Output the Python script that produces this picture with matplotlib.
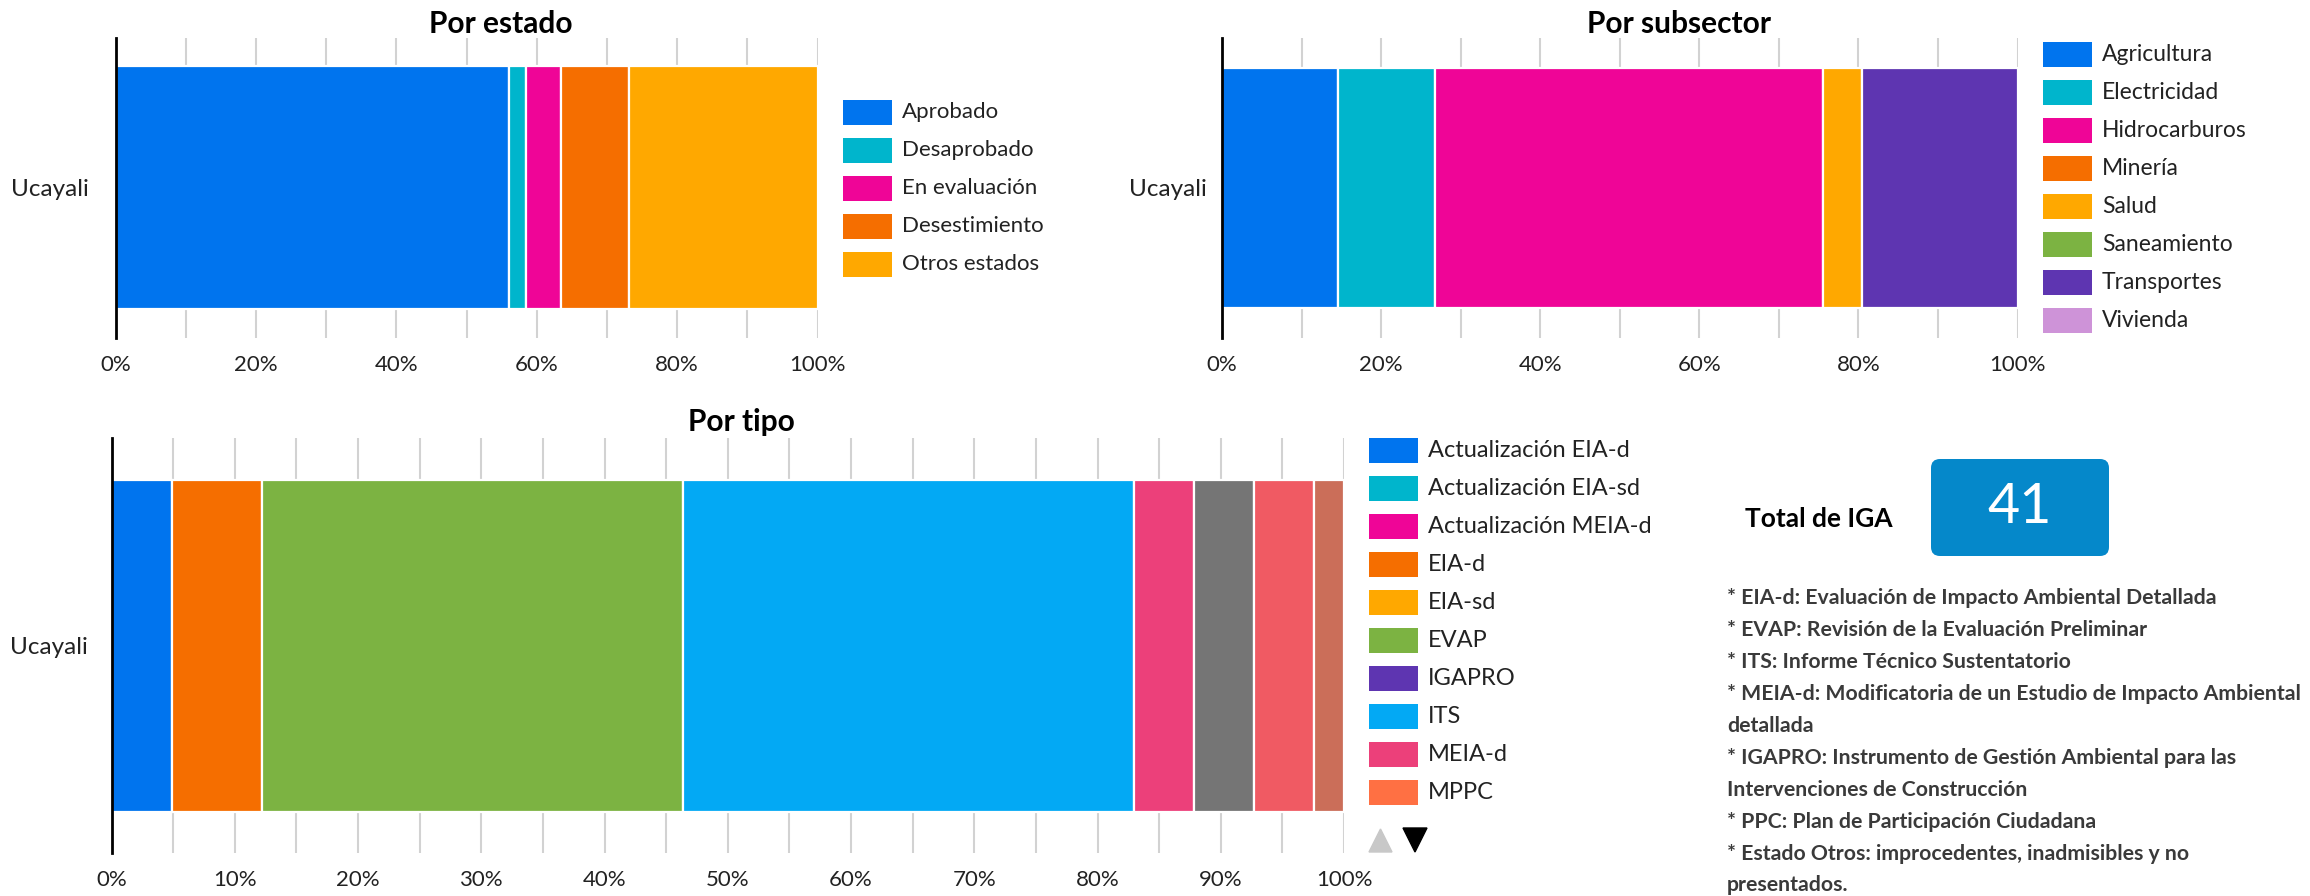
import matplotlib
matplotlib.use('Agg')
import matplotlib.pyplot as plt
from matplotlib.patches import FancyBboxPatch
import numpy as np

W, H = 2310, 896
FONT = ['Lato', 'DejaVu Sans']
plt.rcParams['font.family'] = FONT

region = ["Ucayali"]

estado_labels = ["Aprobado", "Desaprobado", "En evaluación", "Desestimiento", "Otros estados"]
estado_values = [23, 1, 2, 4, 11]
estado_colors = ["#0074EE", "#00B5CC", "#EF0597", "#F56E00", "#FFA800"]

subsector_labels = ["Agricultura", "Electricidad", "Hidrocarburos", "Minería", "Salud",
                    "Saneamiento", "Transportes", "Vivienda"]
subsector_values = [6, 5, 20, 0, 2, 0, 8, 0]
subsector_colors = ["#0074EE", "#00B5CC", "#EF0597", "#F56E00", "#FFA800",
                    "#7CB342", "#5E35B1", "#CE93D8"]

tipo_labels = ["Actualización EIA-d", "Actualización EIA-sd", "Actualización MEIA-d", "EIA-d",
               "EIA-sd", "EVAP", "IGAPRO", "ITS", "MEIA-d", "MPPC", "Otros", "PPC", "Varios"]
tipo_values = [2, 0, 0, 3, 0, 14, 0, 15, 2, 0, 2, 2, 1]
tipo_colors = ["#0074EE", "#00B5CC", "#EF0597", "#F56E00", "#FFA800", "#7CB342", "#5E35B1",
               "#03A9F4", "#EC407A", "#FF7043", "#757575", "#F05A63", "#CB6E59"]
tipo_legend_visible = 10

total_iga = 41
footnotes = [
    "* EIA-d: Evaluación de Impacto Ambiental Detallada",
    "* EVAP: Revisión de la Evaluación Preliminar",
    "* ITS: Informe Técnico Sustentatorio",
    "* MEIA-d: Modificatoria de un Estudio de Impacto Ambiental",
    "detallada",
    "* IGAPRO: Instrumento de Gestión Ambiental para las",
    "Intervenciones de Construcción",
    "* PPC: Plan de Participación Ciudadana",
    "* Estado Otros: improcedentes, inadmisibles y no",
    "presentados.",
]

fig = plt.figure(figsize=(W / 100, H / 100), dpi=100)


def px_axes(x0, y0, x1, y1):
    return fig.add_axes([x0 / W, 1 - y1 / H, (x1 - x0) / W, (y1 - y0) / H])


def stacked(ax, title, labels, values, colors, major, minor, ypad, ylabpad, xpad, bar_h, tx):
    total = sum(values)
    left = 0.0
    for lab, v, c in zip(labels, values, colors):
        pct = v / total * 100
        if v > 0:
            ax.barh(region, [pct], left=left, height=bar_h, color=c,
                    edgecolor='white', linewidth=1.6, label=lab, zorder=3)
        left += pct
    ax.set_xlim(0, 100)
    ax.set_ylim(-0.5, 0.5)
    ax.set_xticks(np.arange(0, 101, major))
    ax.set_xticklabels([f"{t}%" for t in np.arange(0, 101, major)], fontsize=16, color='#222222')
    ax.set_xticks(np.arange(0, 101, minor), minor=True)
    ax.grid(axis='x', which='both', color='#d2d2d2', lw=1.5, zorder=0)
    ax.set_yticks([0])
    ax.set_yticklabels(region, fontsize=17.5, color='#222222')
    for s in ['top', 'right', 'bottom']:
        ax.spines[s].set_visible(False)
    ax.spines['left'].set_color('black')
    ax.spines['left'].set_linewidth(2)
    ax.spines['left'].set_zorder(5)
    ax.tick_params(which='both', length=0)
    ax.tick_params(axis='x', pad=xpad)
    ax.tick_params(axis='y', pad=ylabpad)
    t = ax.set_title(title, fontsize=21.5, fontweight='bold', pad=ypad)
    t.set_x(tx)


def legend(x0, y0, labels, colors, step=38.0, n=None, fs=16.5):
    n = len(labels) if n is None else n
    lax = px_axes(x0, y0, x0 + 300, y0 + step * n)
    lax.set_xlim(0, 300)
    lax.set_ylim(step * n, 0)
    lax.axis('off')
    for i, (lab, c) in enumerate(zip(labels[:n], colors[:n])):
        lax.bar([0], [25], bottom=i * step, width=49, align='edge', color=c,
                edgecolor='none')
        lax.text(59, i * step + 12.5, lab, va='center', ha='left', fontsize=fs,
                 color='#222222')
    return lax


# Top-left: Por estado
ax1 = px_axes(115.5, 38, 817.5, 338)
stacked(ax1, "Por estado", estado_labels, estado_values, estado_colors, 20, 10,
        ypad=3, ylabpad=19, xpad=12, bar_h=0.81, tx=0.549)
legend(843, 100, estado_labels, estado_colors, fs=16)

# Top-right: Por subsector
ax2 = px_axes(1222, 38, 2017.5, 338)
stacked(ax2, "Por subsector", subsector_labels, subsector_values, subsector_colors, 20, 10,
        ypad=3, ylabpad=11, xpad=12, bar_h=0.80, tx=0.575)
legend(2043, 42, subsector_labels, subsector_colors, fs=16.5)

# Bottom: Por tipo
ax3 = px_axes(111.5, 438, 1344, 853)
stacked(ax3, "Por tipo", tipo_labels, tipo_values, tipo_colors, 10, 5,
        ypad=5, ylabpad=17, xpad=12, bar_h=0.80, tx=0.511)
lax3 = legend(1369, 438, tipo_labels, tipo_colors, n=tipo_legend_visible, fs=17)

# pager arrows
pax = px_axes(1360, 820, 1440, 860)
pax.set_xlim(0, 80)
pax.set_ylim(40, 0)
pax.axis('off')
pax.fill([9, 32, 20.5], [32, 32, 9], color='#c8c8c8')
pax.fill([43, 67, 55], [8, 8, 32], color='black')

# Total box
bax = px_axes(1700, 450, 2140, 565)
bax.set_xlim(1700, 2140)
bax.set_ylim(565, 450)
bax.axis('off')
bax.add_patch(FancyBboxPatch((1931, 459), 178, 97, boxstyle="round,pad=0,rounding_size=9",
                             facecolor='#0588CA', edgecolor='none'))
bax.text(1893, 519, "Total de IGA", ha='right', va='center', fontsize=19, fontweight='bold',
         color='black')
bax.text(2020, 508, str(total_iga), ha='center', va='center', fontsize=40, fontweight='normal',
         color='white')

# Footnotes
line_y = [598, 630, 662, 694, 726, 758, 790, 822, 854, 885]
for yy, t in zip(line_y, footnotes):
    fig.text(1727 / W, 1 - yy / H, t, ha='left', va='center', fontsize=15.3,
             fontweight='bold', color='#3a3a3a')

fig.savefig('out.png', dpi=100, facecolor='white')
